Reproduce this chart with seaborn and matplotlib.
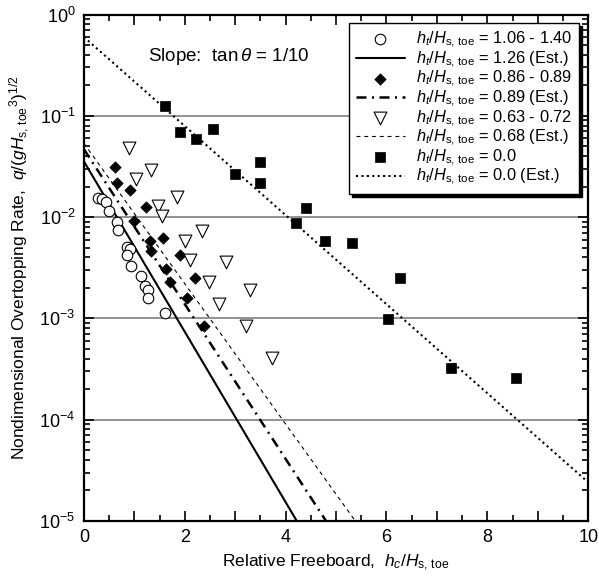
import numpy as np
import pandas as pd
import matplotlib
matplotlib.use("Agg")
import matplotlib.pyplot as plt
import matplotlib.ticker as mticker
import seaborn as sns

# ---------------- data ----------------
circ_x = [0.28, 0.35, 0.43, 0.50, 0.66, 0.68, 0.86, 0.91, 0.85, 0.94, 1.14, 1.21, 1.28, 1.28, 1.61]
circ_y = [0.0153, 0.0150, 0.0142, 0.0115, 0.0090, 0.0074, 0.0051, 0.0048, 0.0042, 0.0033,
          0.0026, 0.0021, 0.0019, 0.0016, 0.00112]

diam_x = [0.61, 0.65, 0.91, 1.24, 0.99, 1.32, 1.57, 1.34, 1.90, 1.63, 1.71, 2.20, 2.04, 2.38]
diam_y = [0.0314, 0.0216, 0.0185, 0.0125, 0.0092, 0.0058, 0.0062, 0.0046, 0.0042, 0.0031,
          0.0023, 0.0025, 0.0016, 0.00083]

tri_x = [0.90, 1.34, 1.03, 1.84, 1.47, 1.54, 2.35, 2.00, 2.10, 2.81, 2.49, 3.29, 2.68, 3.21, 3.74]
tri_y = [0.0483, 0.0291, 0.0236, 0.0159, 0.0129, 0.0103, 0.0073, 0.0058, 0.0038, 0.0036,
         0.0023, 0.0019, 0.0014, 0.00084, 0.00041]

sq_x = [1.61, 1.90, 2.22, 2.57, 3.00, 3.49, 3.49, 4.21, 4.40, 4.78, 5.32, 6.04, 6.26, 7.28, 8.56]
sq_y = [0.124, 0.0686, 0.0585, 0.0739, 0.0264, 0.0347, 0.0215, 0.0087, 0.0124, 0.0058,
        0.0055, 0.00099, 0.0025, 0.00032, 0.00026]

# estimated lines: end points
est126_x = [0.0, 4.22]
est126_y = [0.0355, 1e-5]
est089_x = [0.0, 4.80]
est089_y = [0.0468, 1e-5]
est068_x = [0.0, 5.38]
est068_y = [0.0535, 1e-5]
est000_x = [0.0, 10.0]
est000_y = [0.60, 2.4e-5]

labels = [
    r"$h_t/H_{\rm s,\,toe}$ = 1.06 - 1.40",
    r"$h_t/H_{\rm s,\,toe}$ = 1.26 (Est.)",
    r"$h_t/H_{\rm s,\,toe}$ = 0.86 - 0.89",
    r"$h_t/H_{\rm s,\,toe}$ = 0.89 (Est.)",
    r"$h_t/H_{\rm s,\,toe}$ = 0.63 - 0.72",
    r"$h_t/H_{\rm s,\,toe}$ = 0.68 (Est.)",
    r"$h_t/H_{\rm s,\,toe}$ = 0.0",
    r"$h_t/H_{\rm s,\,toe}$ = 0.0 (Est.)",
]
x_ticks = [0, 2, 4, 6, 8, 10]

# ---------------- style ----------------
sns.set_theme(style="ticks")
plt.rcParams.update({
    "font.family": ["Liberation Sans", "DejaVu Sans"],
    "mathtext.fontset": "custom",
    "mathtext.rm": "Liberation Sans",
    "mathtext.it": "Liberation Sans:italic",
    "mathtext.bf": "Liberation Sans:bold",
    "axes.edgecolor": "black",
    "axes.linewidth": 1.6,
    "xtick.color": "black",
    "ytick.color": "black",
    "text.color": "black",
    "axes.labelcolor": "black",
})

fig = plt.figure(figsize=(5.99, 5.80), dpi=100)
ax = fig.add_axes([0.140, 0.102, 0.842, 0.873])
ax.set_yscale("log")

# grid lines at decades
for d in [1e-1, 1e-2, 1e-3, 1e-4]:
    ax.axhline(d, color="#7f7f7f", lw=1.2, zorder=0.5)

sns.scatterplot(x=circ_x, y=circ_y, marker="o", s=(7.6) ** 2, facecolor="white",
                edgecolor="black", linewidth=0.8, ax=ax, label=labels[0], zorder=3)
sns.lineplot(x=est126_x, y=est126_y, color="black", lw=1.5, ax=ax, label=labels[1],
             linestyle="-", zorder=2)
sns.scatterplot(x=diam_x, y=diam_y, marker="D", s=(5.8) ** 2, color="black",
                edgecolor="black", linewidth=0.5, ax=ax, label=labels[2], zorder=3)
sns.lineplot(x=est089_x, y=est089_y, color="black", lw=1.8, ax=ax, label=labels[3],
             linestyle=(0, (4.0, 2.2, 0.8, 2.2)), zorder=2)
sns.scatterplot(x=tri_x, y=tri_y, marker="v", s=(9.2) ** 2, facecolor="white",
                edgecolor="black", linewidth=0.8, ax=ax, label=labels[4], zorder=3)
sns.lineplot(x=est068_x, y=est068_y, color="black", lw=0.8, ax=ax, label=labels[5],
             linestyle=(0, (3.5, 3.5)), zorder=2)
sns.scatterplot(x=sq_x, y=sq_y, marker="s", s=(6.6) ** 2, color="black",
                edgecolor="black", linewidth=0.5, ax=ax, label=labels[6], zorder=3)
sns.lineplot(x=est000_x, y=est000_y, color="black", lw=1.5, ax=ax, label=labels[7],
             linestyle=(0, (1.0, 1.6)), zorder=2)

ax.set_xlim(0, 10)
ax.set_ylim(1e-5, 1)

ax.xaxis.set_major_locator(mticker.MultipleLocator(1))
ax.xaxis.set_minor_locator(mticker.MultipleLocator(0.5))
ax.xaxis.set_major_formatter(mticker.FuncFormatter(
    lambda v, p: f"{int(round(v))}" if int(round(v)) in x_ticks else ""))
ax.yaxis.set_major_locator(mticker.LogLocator(base=10, numticks=10))
ax.yaxis.set_minor_locator(mticker.LogLocator(base=10, subs=np.arange(2, 10), numticks=10))
ax.yaxis.set_minor_formatter(mticker.NullFormatter())

ax.tick_params(which="both", direction="in", top=True, right=True, width=1.2, labelsize=13)
ax.tick_params(axis="x", which="both", pad=6)
ax.tick_params(axis="y", which="both", pad=6)
ax.tick_params(which="major", length=7)
ax.tick_params(which="minor", length=4.5)

ax.set_xlabel(r"Relative Freeboard,  $h_c/H_{\rm s,\,toe}$", fontsize=12.5, labelpad=5)
ax.set_ylabel(r"Nondimensional Overtopping Rate,  $q/(gH_{\rm s,\,toe}{}^{3})^{1/2}$",
              fontsize=12.5, labelpad=5)

ax.text(0.127, 0.918, r"Slope:  tan$\,\theta$ = 1/10", transform=ax.transAxes,
        fontsize=13.5, ha="left", va="center")

handles, labs = ax.get_legend_handles_labels()
leg = ax.legend(handles, labs, loc="upper right", bbox_to_anchor=(0.982, 0.983),
                fontsize=11.8, frameon=True, fancybox=False, edgecolor="black",
                shadow={"color": "black", "alpha": 1.0}, handlelength=3.0,
                labelspacing=-0.04, borderpad=0.4, handletextpad=0.7, borderaxespad=0)
leg.get_frame().set_linewidth(1.0)
leg.set_zorder(5)

fig.savefig("out.png", dpi=100)
